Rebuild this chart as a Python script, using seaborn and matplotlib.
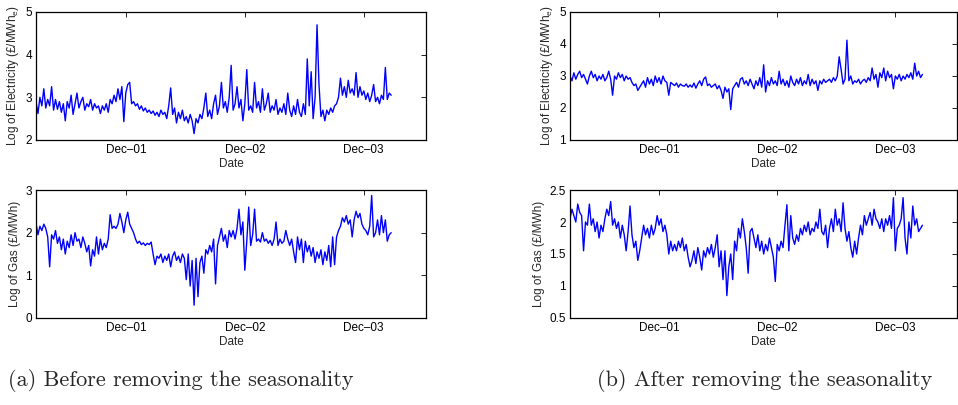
import numpy as np
import pandas as pd
import matplotlib
matplotlib.use("Agg")
import matplotlib.pyplot as plt
import seaborn as sns

# ---------------- data (one value every 6 days) ----------------
START_DATE = "2001-02-27"
STEP = "6D"

elec_before = [
    2.90, 2.62, 3.00, 2.80, 3.20, 2.75, 2.95, 2.80, 3.25, 2.70,
    2.95, 2.72, 2.90, 2.65, 2.85, 2.45, 2.90, 2.75, 3.05, 2.60,
    2.85, 3.10, 2.75, 2.90, 3.00, 2.70, 2.85, 2.78, 2.95, 2.70,
    2.85, 2.75, 2.80, 2.62, 2.80, 2.70, 2.85, 2.65, 2.95, 2.85,
    3.05, 2.90, 3.20, 2.95, 3.25, 2.43, 3.10, 3.30, 3.35, 2.85,
    2.90, 2.80, 2.85, 2.72, 2.80, 2.68, 2.75, 2.65, 2.70, 2.62,
    2.68, 2.58, 2.65, 2.55, 2.70, 2.60, 2.65, 2.50, 2.80, 3.22,
    2.60, 2.75, 2.40, 2.65, 2.50, 2.70, 2.45, 2.55, 2.40, 2.60,
    2.45, 2.15, 2.50, 2.40, 2.60, 2.50, 2.75, 3.10, 2.55, 2.70,
    2.50, 2.85, 3.05, 2.60, 2.80, 3.35, 2.75, 2.90, 2.65, 3.00,
    3.75, 2.70, 2.85, 3.25, 2.75, 2.95, 2.45, 2.85, 3.65, 2.70,
    2.80, 2.65, 3.35, 2.75, 2.90, 2.65, 3.20, 2.70, 2.85, 3.10,
    2.65, 2.80, 2.70, 2.95, 2.60, 2.75, 2.65, 2.85, 2.60, 3.10,
    2.70, 2.55, 2.80, 2.60, 2.95, 2.65, 2.55, 2.85, 2.60, 3.90,
    2.80, 3.60, 2.50, 3.00, 4.70, 3.30, 2.55, 2.70, 2.45, 2.70,
    2.60, 2.75, 2.65, 2.80, 2.85, 3.00, 3.45, 3.05, 3.25, 3.00,
    3.40, 3.10, 3.20, 3.05, 3.58, 3.00, 3.25, 3.05, 3.15, 2.95,
    3.10, 2.90, 3.05, 3.30, 2.90, 3.00, 2.85, 3.05, 2.95, 3.70,
    2.95, 3.10, 3.05,
]

gas_before = [
    2.22, 1.95, 2.15, 2.05, 2.20, 2.10, 1.90, 1.20, 1.95, 1.85,
    2.05, 1.75, 1.90, 1.60, 1.85, 1.50, 1.80, 1.65, 1.95, 1.70,
    2.00, 1.80, 1.85, 1.65, 1.90, 1.75, 1.55, 1.70, 1.22, 1.60,
    1.45, 1.90, 1.50, 1.85, 1.60, 1.75, 1.65, 1.85, 2.42, 2.10,
    2.15, 2.10, 2.20, 2.45, 2.25, 2.00, 2.30, 2.48, 2.20, 2.10,
    2.00, 1.85, 1.75, 1.80, 1.72, 1.76, 1.70, 1.75, 1.72, 1.78,
    1.50, 1.25, 1.45, 1.40, 1.50, 1.30, 1.45, 1.35, 1.50, 1.20,
    1.45, 1.55, 1.35, 1.45, 1.30, 1.50, 1.40, 0.90, 1.50, 0.75,
    1.35, 0.30, 1.40, 0.50, 1.30, 1.45, 1.05, 1.60, 1.50, 1.70,
    1.55, 1.85, 0.80, 1.70, 1.90, 2.10, 1.80, 1.95, 1.65, 2.05,
    1.90, 2.05, 1.85, 2.10, 2.55, 1.95, 2.25, 1.12, 1.80, 2.60,
    1.70, 1.95, 2.55, 1.80, 1.85, 1.78, 2.00, 1.80, 1.85, 1.75,
    1.82, 1.70, 1.85, 2.25, 1.70, 1.85, 1.75, 1.80, 2.05, 1.85,
    1.70, 1.85, 1.55, 1.30, 1.90, 1.60, 1.85, 1.30, 1.80, 1.55,
    1.70, 1.45, 1.65, 1.30, 1.55, 1.40, 1.60, 1.25, 1.55, 1.35,
    1.70, 1.20, 1.90, 1.25, 1.90, 2.05, 2.15, 2.35, 2.25, 2.40,
    2.20, 2.30, 1.90, 2.30, 2.50, 2.35, 2.45, 2.20, 2.10, 2.05,
    1.95, 2.15, 2.87, 1.90, 2.00, 2.30, 1.95, 2.40, 2.00, 2.30,
    1.80, 1.95, 2.00,
]

elec_after = [
    3.00, 2.85, 3.10, 2.90, 3.05, 3.15, 2.95, 3.05, 2.90, 2.75,
    3.00, 3.15, 2.95, 3.05, 2.85, 3.00, 2.90, 3.05, 2.85, 2.95,
    3.15, 2.90, 2.40, 3.00, 2.90, 3.10, 2.95, 3.05, 2.85, 3.00,
    2.90, 2.95, 2.80, 2.70, 2.75, 2.55, 2.65, 2.75, 2.85, 2.65,
    2.95, 2.75, 2.90, 2.70, 3.00, 2.80, 2.95, 2.75, 3.00, 2.85,
    2.80, 2.40, 2.80, 2.75, 2.70, 2.78, 2.65, 2.75, 2.70, 2.68,
    2.75, 2.65, 2.72, 2.65, 2.78, 2.62, 2.75, 2.85, 2.70, 2.90,
    2.97, 2.70, 2.75, 2.65, 2.70, 2.75, 2.60, 2.70, 2.55, 2.30,
    2.65, 2.50, 2.60, 1.95, 2.60, 2.70, 2.80, 2.65, 2.90, 2.95,
    2.75, 2.85, 2.70, 2.90, 2.75, 2.60, 2.85, 2.70, 2.95, 2.65,
    3.35, 2.50, 2.85, 2.70, 2.95, 2.75, 2.85, 2.70, 3.15, 2.75,
    2.90, 2.70, 2.85, 2.65, 3.00, 2.80, 2.70, 2.90, 2.75, 2.95,
    2.70, 2.85, 2.75, 3.05, 2.70, 2.90, 2.75, 2.85, 2.55, 2.85,
    2.75, 2.90, 2.80, 2.85, 2.90, 2.80, 2.95, 2.85, 3.00, 3.60,
    3.20, 2.75, 2.90, 4.12, 2.85, 3.00, 2.75, 2.85, 2.80, 2.90,
    2.75, 2.85, 2.90, 2.80, 2.95, 2.85, 3.25, 2.90, 3.05, 2.65,
    3.10, 2.95, 3.25, 2.85, 3.15, 2.95, 3.05, 2.60, 3.00, 2.90,
    3.05, 2.85, 3.00, 2.90, 3.05, 2.95, 3.10, 2.90, 3.40, 3.00,
    3.15, 2.95, 3.05,
]

gas_after = [
    2.05, 2.20, 2.10, 2.00, 2.28, 2.15, 2.10, 1.55, 2.00, 1.95,
    2.28, 1.95, 2.05, 1.85, 2.00, 1.75, 1.95, 1.85, 2.05, 2.20,
    2.10, 2.32, 1.95, 2.05, 1.90, 2.00, 1.75, 1.95, 1.80, 1.55,
    1.85, 2.25, 1.80, 1.60, 1.70, 1.40, 1.55, 1.75, 1.95, 1.80,
    1.90, 1.75, 1.95, 1.80, 1.90, 2.10, 1.95, 2.05, 1.85, 1.95,
    1.80, 1.50, 1.70, 1.55, 1.65, 1.55, 1.70, 1.60, 1.75, 1.55,
    1.65, 1.45, 1.30, 1.40, 1.55, 1.35, 1.60, 1.45, 1.25, 1.55,
    1.45, 1.60, 1.50, 1.65, 1.45, 1.60, 1.80, 1.30, 1.55, 1.10,
    1.55, 0.85, 1.30, 1.50, 1.10, 1.70, 1.55, 1.90, 1.75, 2.05,
    1.85, 1.60, 1.20, 1.85, 1.90, 1.75, 1.60, 1.80, 1.55, 1.70,
    1.50, 1.65, 1.55, 1.75, 1.60, 1.45, 1.07, 1.65, 1.55, 1.70,
    1.60, 1.95, 2.27, 1.55, 2.10, 1.75, 1.65, 1.80, 1.70, 1.90,
    1.80, 1.95, 1.85, 2.00, 1.80, 1.90, 1.85, 2.00, 1.90, 2.20,
    1.85, 1.80, 1.95, 1.60, 1.90, 2.05, 1.85, 2.20, 1.95, 2.05,
    1.85, 2.30, 1.90, 1.70, 1.85, 1.60, 1.45, 1.70, 1.50, 1.75,
    1.95, 1.80, 2.10, 1.95, 2.05, 2.15, 1.95, 2.20, 2.05, 2.00,
    1.90, 2.05, 1.85, 2.05, 1.95, 2.10, 1.90, 2.38, 1.55, 1.90,
    1.95, 2.05, 2.38, 1.75, 1.50, 2.00, 1.75, 2.25, 1.95, 2.05,
    1.85, 1.90, 1.95,
]

x_ticks = ["2001-12-01", "2002-12-01", "2003-12-01"]
x_tick_labels = ["Dec\u201301", "Dec\u201302", "Dec\u201303"]
x_limits = ["2001-02-27", "2004-06-10"]

elec_ticks_before = [2, 3, 4, 5]
gas_ticks_before = [0, 1, 2, 3]
elec_ticks_after = [1, 2, 3, 4, 5]
gas_ticks_after = [0.5, 1, 1.5, 2, 2.5]
gas_tick_labels_after = ["0.5", "1", "1.5", "2", "2.5"]

elec_label = "Log of Electricity (\u00a3/MWh$_\\mathregular{e}$)"
gas_label = "Log of Gas (\u00a3/MWh)"
captions = ["(a) Before removing the seasonality", "(b) After removing the seasonality"]

# ---------------- style ----------------
sns.set_style("white")
plt.rcParams["font.family"] = ["Liberation Sans", "DejaVu Sans"]
plt.rcParams["mathtext.default"] = "regular"

W, H = 958, 405
fig = plt.figure(figsize=(W / 100, H / 100), dpi=100)
fig.patch.set_facecolor("white")


def rect(x0, y0, x1, y1):
    return [x0 / W, 1 - y1 / H, (x1 - x0) / W, (y1 - y0) / H]


dates = pd.date_range(START_DATE, periods=len(elec_before), freq=STEP)

panels = [
    (rect(36, 12, 426, 140), elec_before, elec_label, elec_ticks_before, None),
    (rect(36, 190, 426, 318), gas_before, gas_label, gas_ticks_before, None),
    (rect(570, 12, 957, 140), elec_after, elec_label, elec_ticks_after, None),
    (rect(570, 190, 957, 318), gas_after, gas_label, gas_ticks_after, gas_tick_labels_after),
]

FS = 8.5
for r, vals, ylab, yt, ytl in panels:
    ax = fig.add_axes(r)
    df = pd.DataFrame({"Date": dates, "v": vals})
    sns.lineplot(data=df, x="Date", y="v", ax=ax, color="#0000ff", lw=1.0)
    ax.set_xlim(pd.Timestamp(x_limits[0]), pd.Timestamp(x_limits[1]))
    ax.set_ylim(yt[0], yt[-1])
    ax.set_yticks(yt)
    if ytl is not None:
        ax.set_yticklabels(ytl)
    else:
        ax.set_yticklabels([str(t) for t in yt])
    ax.set_xticks([pd.Timestamp(t) for t in x_ticks])
    ax.set_xticklabels(x_tick_labels)
    ax.tick_params(direction="in", length=3.5, width=0.6, top=True, right=True,
                   labelsize=FS, colors="black", pad=3)
    for s in ax.spines.values():
        s.set_visible(True)
        s.set_color("black")
        s.set_linewidth(0.9)
    ax.set_xlabel("Date", fontsize=FS, labelpad=1)
    ax.set_ylabel(ylab, fontsize=FS, labelpad=3)
    ax.grid(False)

fig.text(181 / W, 1 - 380 / H, captions[0], family="cmr10", fontsize=16,
         ha="center", va="center")
fig.text(765 / W, 1 - 380 / H, captions[1], family="cmr10", fontsize=16,
         ha="center", va="center")

fig.savefig("out.png", dpi=100, facecolor="white")
